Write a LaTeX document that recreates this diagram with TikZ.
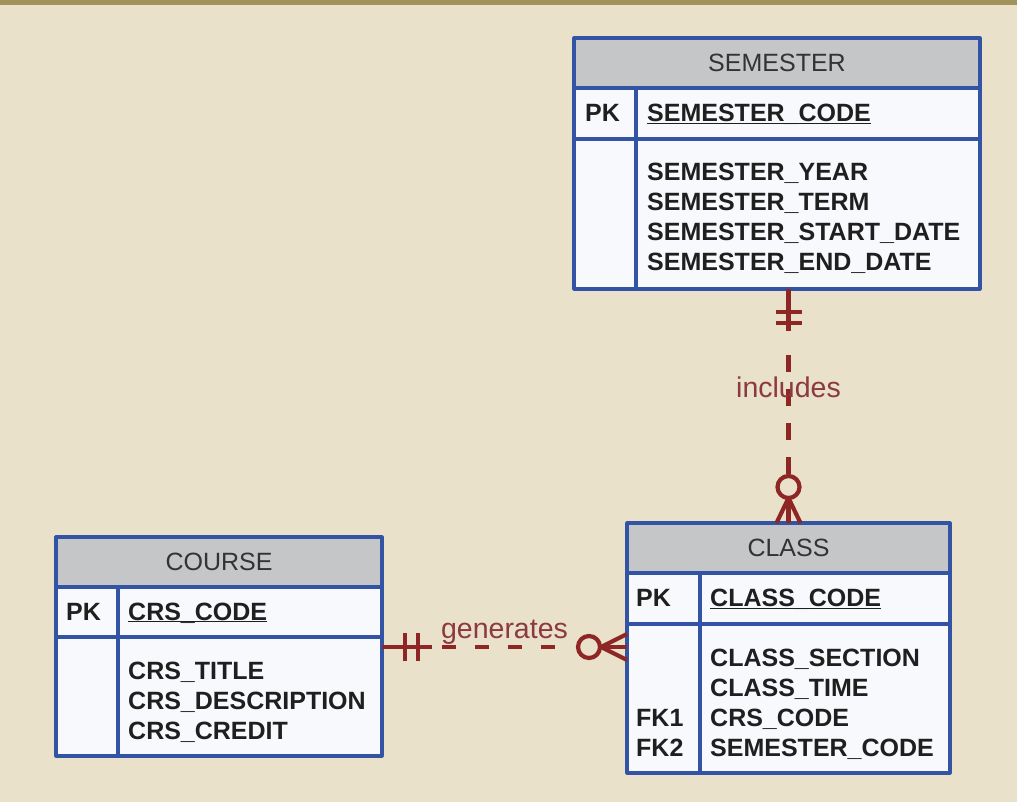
\documentclass[tikz,border=0pt]{standalone}
\usepackage{fontspec}
\setmainfont{Liberation Sans}
\usetikzlibrary{positioning,calc}
\definecolor{beige}{HTML}{E9E1C9}
\definecolor{olive}{HTML}{A1935E}
\definecolor{entblue}{HTML}{3353A4}
\definecolor{headgray}{HTML}{C4C6C8}
\definecolor{rowwhite}{HTML}{F8F9FC}
\definecolor{relred}{HTML}{8E2626}
\definecolor{lblred}{HTML}{8C3A40}
\newcommand{\pkname}[1]{\underline{\smash{#1}}}
\tikzset{
  every picture/.style={line join=round},
  entline/.style={draw=entblue, line width=3.2pt},
  headbox/.style={entline, fill=headgray, anchor=north west, inner sep=0pt, outer sep=0pt,
    font=\fontsize{25}{25}\selectfont, text=black!80},
  rowbox/.style={entline, fill=rowwhite, anchor=north west, inner sep=0pt, outer sep=0pt},
  attr/.style={anchor=base west, inner sep=0pt,
    font=\fontsize{25}{25}\selectfont\bfseries, text=black!88},
  rel/.style={draw=relred, line width=4.2pt},
  reldash/.style={rel, dash pattern=on 17pt off 17pt},
  rellabel/.style={anchor=base, inner sep=0pt, text=lblred,
    font=\fontsize{28.5}{28.5}\selectfont},
}
\begin{document}
\begin{tikzpicture}[x=1pt,y=-1pt]
\useasboundingbox (0,0) rectangle (1017,802);
\fill[beige] (0,0) rectangle (1017,802);
\fill[olive] (0,0) rectangle (1017,5);

% SEMESTER
\node[headbox, minimum width=406pt, minimum height=50pt] (sem) at (574,38) {SEMESTER};
\node[rowbox, minimum width=406pt, minimum height=51pt] (sem-pk) at (sem.south west) {};
\node[rowbox, minimum width=406pt, minimum height=150pt] (sem-at) at (sem-pk.south west) {};
\draw[entline] ([xshift=62pt]sem-pk.north west) -- ([xshift=62pt]sem-at.south west);
\node[attr] at ([xshift=11pt, yshift=-8pt]sem-pk.west) {PK};
\node[attr] at ([xshift=73pt, yshift=-8pt]sem-pk.west) {\pkname{SEMESTER\_CODE}};
\foreach \txt [count=\i from 0] in {SEMESTER\_YEAR,SEMESTER\_TERM,SEMESTER\_START\_DATE,SEMESTER\_END\_DATE}
  \node[attr] at ([xshift=73pt, yshift={-42pt-30pt*\i}]sem-at.north west) {\txt};

% CLASS
\node[headbox, minimum width=323pt, minimum height=50pt] (cls) at (627,523) {CLASS};
\node[rowbox, minimum width=323pt, minimum height=51pt] (cls-pk) at (cls.south west) {};
\node[rowbox, minimum width=323pt, minimum height=149pt] (cls-at) at (cls-pk.south west) {};
\draw[entline] ([xshift=73pt]cls-pk.north west) -- ([xshift=73pt]cls-at.south west);
\node[attr] at ([xshift=9pt, yshift=-8pt]cls-pk.west) {PK};
\node[attr] at ([xshift=83pt, yshift=-8pt]cls-pk.west) {\pkname{CLASS\_CODE}};
\foreach \txt [count=\i from 0] in {CLASS\_SECTION,CLASS\_TIME,CRS\_CODE,SEMESTER\_CODE}
  \node[attr] at ([xshift=83pt, yshift={-42pt-30pt*\i}]cls-at.north west) {\txt};
\node[attr] at ([xshift=9pt, yshift=-102pt]cls-at.north west) {FK1};
\node[attr] at ([xshift=9pt, yshift=-132pt]cls-at.north west) {FK2};

% COURSE
\node[headbox, minimum width=326pt, minimum height=50pt] (crs) at (56,537) {COURSE};
\node[rowbox, minimum width=326pt, minimum height=50pt] (crs-pk) at (crs.south west) {};
\node[rowbox, minimum width=326pt, minimum height=119pt] (crs-at) at (crs-pk.south west) {};
\draw[entline] ([xshift=62pt]crs-pk.north west) -- ([xshift=62pt]crs-at.south west);
\node[attr] at ([xshift=10pt, yshift=-8pt]crs-pk.west) {PK};
\node[attr] at ([xshift=72pt, yshift=-8pt]crs-pk.west) {\pkname{CRS\_CODE}};
\foreach \txt [count=\i from 0] in {CRS\_TITLE,CRS\_DESCRIPTION,CRS\_CREDIT}
  \node[attr] at ([xshift=72pt, yshift={-42pt-30pt*\i}]crs-at.north west) {\txt};

% includes: SEMESTER (one) -- CLASS (zero or many)
\coordinate (inc-a) at (sem-at.south -| cls.north);
\coordinate (inc-b) at (cls.north);
\draw[rel] (inc-a) -- ++(0,42);
\draw[rel] ($(inc-a)+(-13,23)$) -- ++(26,0);
\draw[rel] ($(inc-a)+(-13,34)$) -- ++(26,0);
\draw[reldash] ($(inc-a)+(0,66)$) -- ($(inc-b)+(0,-47)$);
\draw[rel] ($(inc-b)+(0,-36)$) circle (11pt);
\draw[rel] ($(inc-b)+(-12,0)$) -- ($(inc-b)+(0,-25)$) -- ($(inc-b)+(12,0)$);
\draw[rel] ($(inc-b)+(0,-25)$) -- (inc-b);
\node[rellabel] (inc-lbl) at ($(inc-a)!0.5!(inc-b)+(0,-9)$) {includes};

% generates: COURSE (one) -- CLASS (zero or many)
\coordinate (gen-a) at ([yshift=-10pt]crs-at.north east);
\coordinate (gen-b) at (gen-a -| cls-at.west);
\draw[rel] (gen-a) -- ++(50,0);
\draw[rel] ($(gen-a)+(23,-14)$) -- ++(0,28);
\draw[rel] ($(gen-a)+(36,-14)$) -- ++(0,28);
\draw[rel, dash pattern=on 14pt off 19pt] ($(gen-a)+(60,0)$) -- ($(gen-b)+(-72,0)$);
\draw[rel] ($(gen-b)+(-38,0)$) circle (11pt);
\draw[rel] ($(gen-b)+(0,-13)$) -- ($(gen-b)+(-26,0)$) -- ($(gen-b)+(0,13)$);
\draw[rel] ($(gen-b)+(-26,0)$) -- (gen-b);
\node[rellabel] (gen-lbl) at ($(gen-a)!0.5!(gen-b)+(0,-9)$) {generates};
\end{tikzpicture}
\end{document}
